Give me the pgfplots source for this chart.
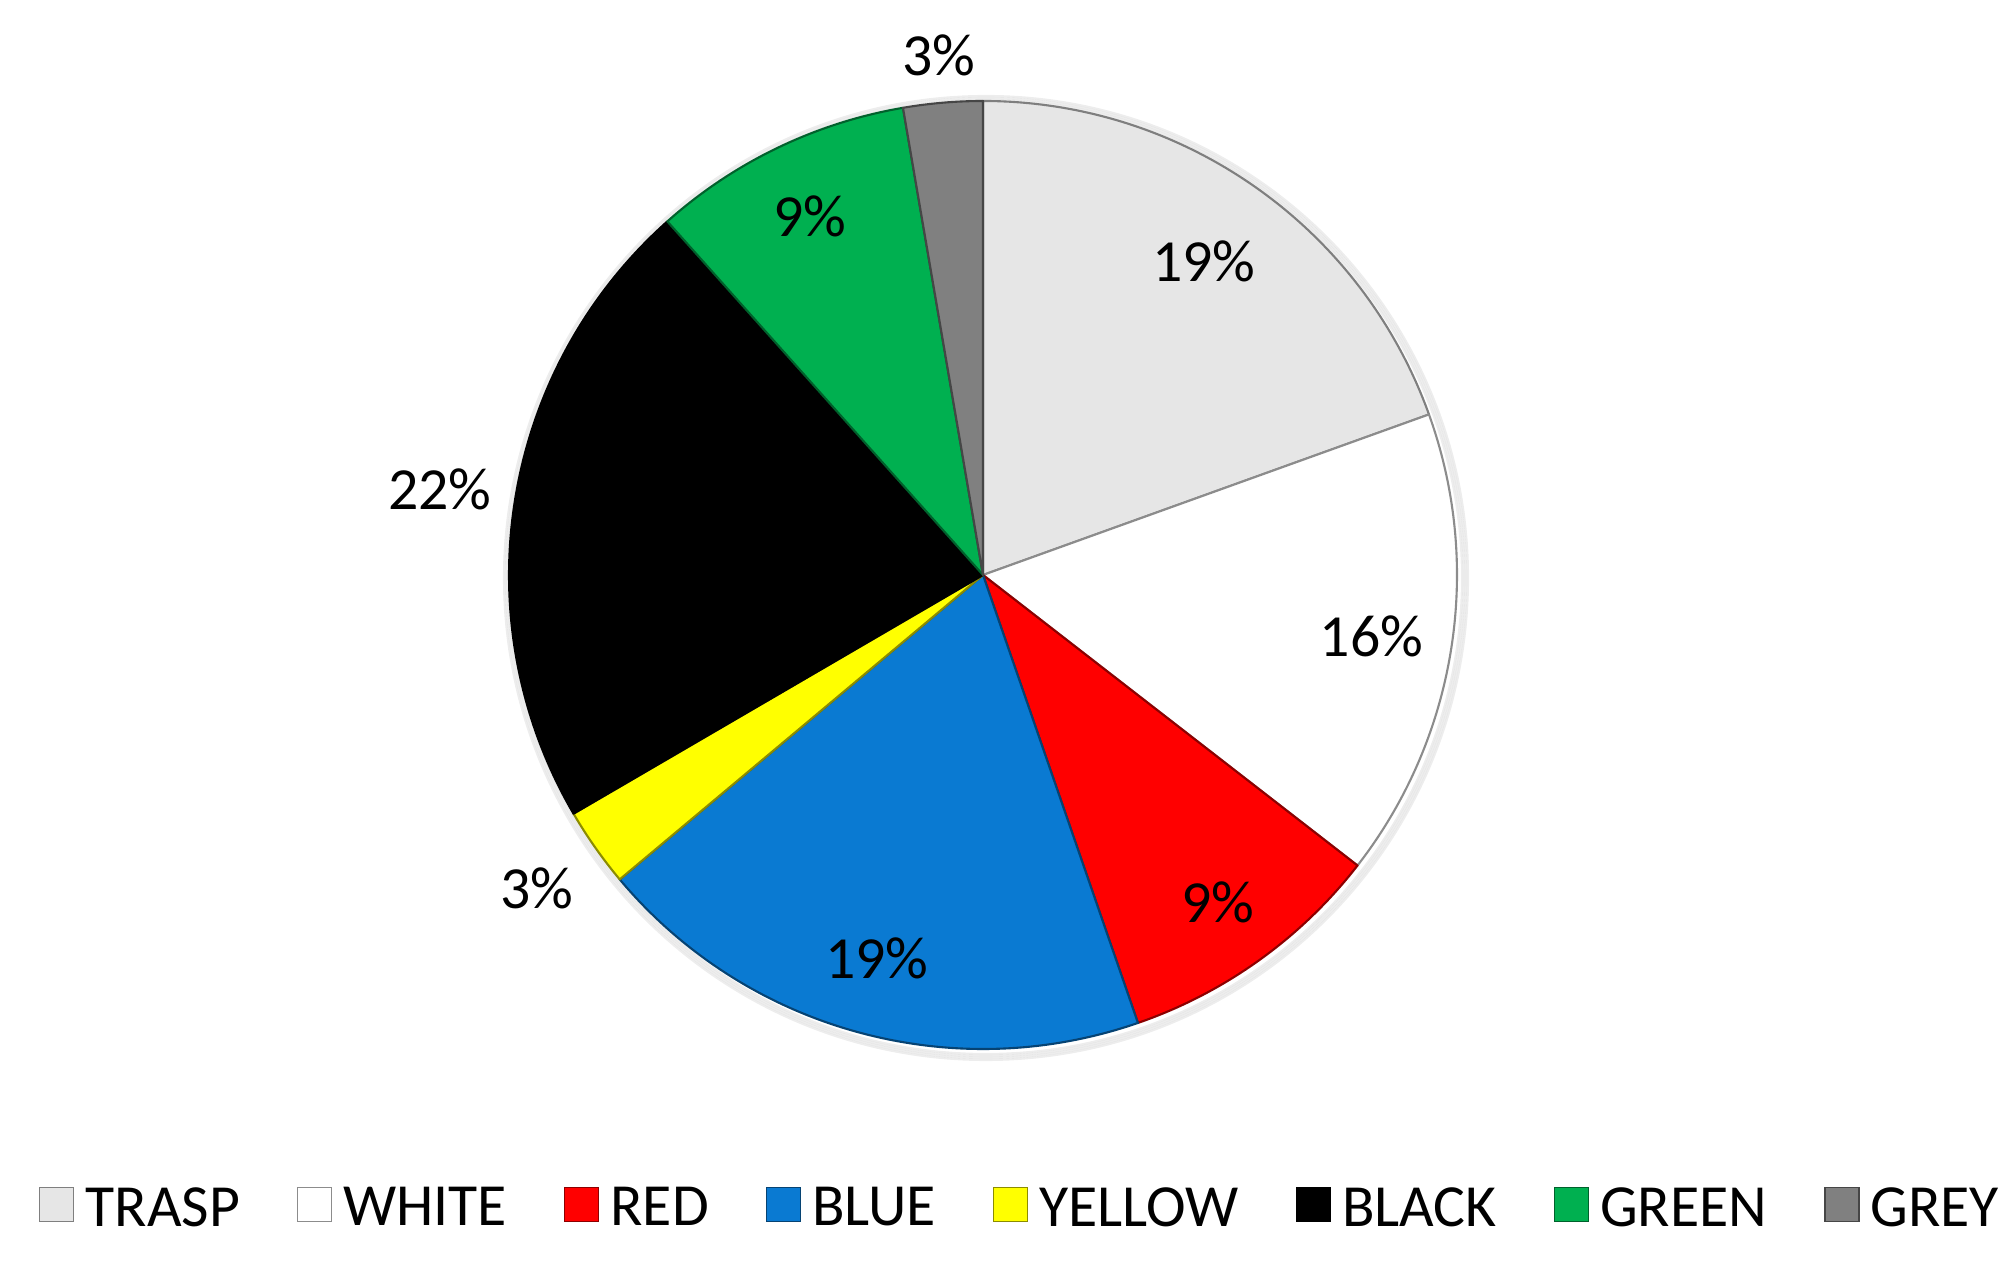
\documentclass[border=0pt]{standalone}
\usepackage{fontspec}
\setmainfont{Carlito}
\usepackage{pgfplots}
\usepackage{pgfplotstable}
\pgfplotsset{compat=1.18}

\definecolor{trasp}{HTML}{E6E6E6}
\definecolor{white}{HTML}{FFFFFF}
\definecolor{red}{HTML}{FF0000}
\definecolor{blue}{HTML}{0A7AD2}
\definecolor{yellow}{HTML}{FFFF00}
\definecolor{black}{HTML}{000000}
\definecolor{green}{HTML}{00B050}
\definecolor{grey}{HTML}{808080}

\newcommand\labelfont{\fontsize{17}{20}\selectfont}

% share (%), printed label, label distance (fraction of radius)
\pgfplotstableread{
name   col    value label lpos
TRASP  trasp  19.5  19    0.81
WHITE  white  16.0  16    0.83
RED    red    9.2   9     0.85
BLUE   blue   19.2  19    0.84
YELLOW yellow 2.7   3     1.15
BLACK  black  21.8  22    1.16
GREEN  green  8.9   9     0.84
GREY   grey   2.7   3     1.10
}\piedata

\begin{document}
\begin{tikzpicture}
\begin{axis}[
  width=20.12cm, height=12.62cm, scale only axis,
  xmin=0, xmax=2012, ymin=0, ymax=1262,
  hide axis, clip=false,
  legend columns=8,
  legend image code/.code={\filldraw[#1, line width=0.4pt] (0cm,-0.12cm) rectangle (0.34cm,0.22cm);},
  legend style={draw=none, fill=none, font=\labelfont,
    at={(0.5065,0.042)}, anchor=center,
    nodes={inner sep=0pt},
    /tikz/every odd column/.append style={column sep=1.1mm},
    /tikz/every even column/.append style={column sep=5.7mm}},
]
\path (axis cs:0,0) rectangle (axis cs:2012,1262);
% soft shadow round the pie
\pgfplotsinvokeforeach{1,...,4}{
  \draw[black, opacity=0.07, line width=0.6pt] (axis cs:986,684) circle[radius=474+#1*2];
}
\pgfmathsetmacro\cumul{0}
\pgfplotsforeachungrouped \i in {0,...,7}{
  \pgfplotstablegetelem{\i}{value}\of\piedata \let\val\pgfplotsretval
  \pgfplotstablegetelem{\i}{col}\of\piedata \let\col\pgfplotsretval
  \pgfplotstablegetelem{\i}{label}\of\piedata \let\lab\pgfplotsretval
  \pgfplotstablegetelem{\i}{lpos}\of\piedata \let\lp\pgfplotsretval
  \pgfplotstablegetelem{\i}{name}\of\piedata \let\nm\pgfplotsretval
  \pgfmathsetmacro\angA{90-3.6*\cumul}
  \pgfmathsetmacro\angB{90-3.6*(\cumul+\val)}
  \pgfmathsetmacro\angM{(\angA+\angB)/2}
  \pgfmathsetmacro\lx{983+474*\lp*cos(\angM)}
  \pgfmathsetmacro\ly{687+474*\lp*sin(\angM)}
  \pgfmathsetmacro\px{983+474*cos(\angA)}
  \pgfmathsetmacro\py{687+474*sin(\angA)}
  \edef\doit{%
    \noexpand\filldraw[fill=\col, draw=\col!55!black, line width=0.6pt, line join=round]
      (axis cs:983,687) -- (axis cs:\px,\py)
      arc[start angle=\angA, end angle=\angB, radius=4.74cm] -- cycle;
    \noexpand\node[font=\noexpand\labelfont] at (axis cs:\lx,\ly) {\lab\noexpand\%};
    \noexpand\addlegendimage{fill=\col, draw=\col!55!black}
    \noexpand\addlegendentry{\nm}%
  }
  \doit
  \pgfmathsetmacro\cumul{\cumul+\val}
}
\end{axis}
\end{tikzpicture}
\end{document}
